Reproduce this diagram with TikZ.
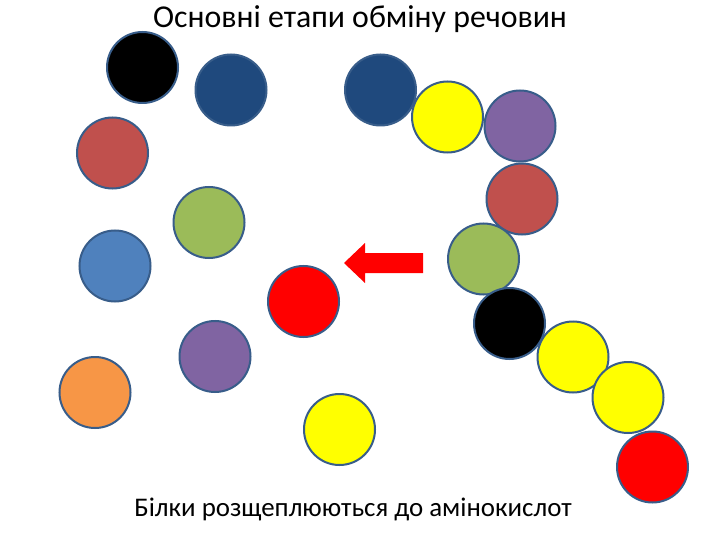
\documentclass[tikz,border=0pt]{standalone}
\usepackage{fontspec}
\setmainfont{Carlito}
\definecolor{cBlack}{HTML}{000000}
\definecolor{cNavy}{HTML}{1F497D}
\definecolor{cYellow}{HTML}{FFFF00}
\definecolor{cPurple}{HTML}{8064A2}
\definecolor{cBrick}{HTML}{C0504D}
\definecolor{cGreen}{HTML}{9BBB59}
\definecolor{cBlue}{HTML}{4F81BD}
\definecolor{cOrange}{HTML}{F79646}
\definecolor{cRed}{HTML}{FF0000}
\definecolor{cEdge}{HTML}{385D8A}
\begin{document}
\begin{tikzpicture}[x=1pt,y=-1pt,
  ball/.style={circle,draw=cEdge,line width=2pt,minimum size=71pt,inner sep=0pt},
  lbl/.style={inner sep=0pt,anchor=base}]
\useasboundingbox (0,0) rectangle (720,540);
\fill[white] (0,0) rectangle (720,540);
% left scattered amino acids
\node[ball,fill=cBlack]  (b1)  at (142.5,67.5) {};
\node[ball,fill=cNavy]   (b2)  at (231,90) {};
\node[ball,fill=cBrick]  (b6)  at (112.5,153) {};
\node[ball,fill=cGreen]  (b8)  at (209,222.5) {};
\node[ball,fill=cBlue]   (b9)  at (115,266) {};
\node[ball,fill=cRed]    (b11) at (303.5,301.5) {};
\node[ball,fill=cPurple] (b13) at (215,356.5) {};
\node[ball,fill=cOrange] (b15) at (95,392.5) {};
\node[ball,fill=cYellow] (b17) at (339.5,429.5) {};
% chain
\node[ball,fill=cNavy]   (c1) at (380.5,90) {};
\node[ball,fill=cYellow] (c2) at (447.5,117) {};
\node[ball,fill=cPurple] (c3) at (520,126) {};
\node[ball,fill=cBrick]  (c4) at (522,199) {};
\node[ball,fill=cGreen]  (c5) at (483.5,259) {};
\node[ball,fill=cBlack]  (c6) at (509.5,323.5) {};
\node[ball,fill=cYellow] (c7) at (573,357) {};
\node[ball,fill=cYellow] (c8) at (628,397.5) {};
\node[ball,fill=cRed]    (c9) at (652.5,467) {};
% arrow
\fill[cRed] (423,253) -- (365,253) -- (365,243) -- (344,263) -- (365,283) -- (365,273) -- (423,273) -- cycle;
% texts
\node[lbl,font=\fontsize{31.8}{38}\selectfont] (title) at (360,28) {Основні етапи обміну речовин};
\node[lbl,font=\fontsize{26.9}{32}\selectfont] (caption) at (353,516) {Білки розщеплюються до амінокислот};
\end{tikzpicture}
\end{document}
